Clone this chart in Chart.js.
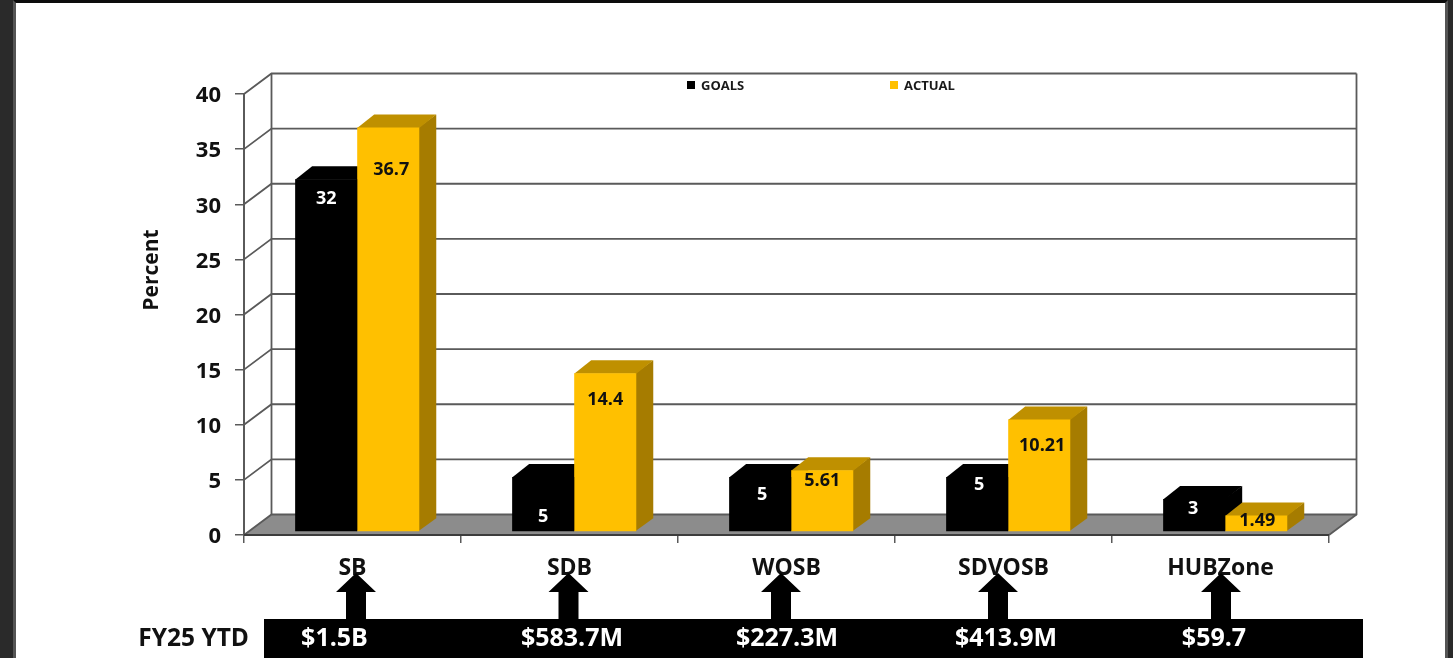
<!DOCTYPE html>
<html>
<head>
<meta charset="utf-8">
<title>FY25 YTD goals vs actual</title>
<script src="https://cdn.jsdelivr.net/npm/chart.js@4"></script>
<style>
  html, body { margin: 0; padding: 0; background: #2a2a2a; overflow: hidden; }
  #frame { position: absolute; left: 0; top: 0; width: 1453px; height: 658px; }
  #sheet { position: absolute; left: 13px; top: 0; width: 1435px; height: 658px; background: #fff;
           border-top: 3px solid #0c0c0c; border-left: 3px solid #555; border-right: 3px solid #555; box-sizing: border-box; }
  canvas { position: absolute; left: 0; top: 0; }
</style>
</head>
<body>
<div id="frame">
  <div id="sheet"></div>
  <canvas id="grafico" width="1453" height="658"></canvas>
</div>
<script>
const categorias = ['SB', 'SDB', 'WOSB', 'SDVOSB', 'HUBZone'];
const goals = [32, 5, 5, 5, 3];
const actual = [36.7, 14.4, 5.61, 10.21, 1.49];
const valoresYtd = ['$1.5B', '$583.7M', '$227.3M', '$413.9M', '$59.7'];
const tickStep = 5;
const tickMax = 40;

// hand placement, same as the slide (offset from each bar, px)
const goalsLabelX = [0, 0, 2, 2, -1];
const goalsLabelY = [20, 40, 18, 8, 10];
const actualLabelX = [3, 0, 0, 3, 1];
const actualLabelY = [42, 27, 11, 26, 5];
const setaX = [3.5, -1, -5.5, -5.5, 0.5];
const ytdX = [-18, 2.5, 0.5, 2.5, -6.5];

const FONTE = '"Open Sans", sans-serif';
const LINHA = '#5a5a5a';
const PAREDE_DX = 27.5, PAREDE_DY = -20.5;  // back wall offset
const BARRA_DX = 17, BARRA_DY = -13;        // bar depth
const DESLOCA_X = 4.7, DESLOCA_Y = -3;      // bars sit a bit inside the floor

function poligono(ctx, pts, cor) {
    ctx.beginPath();
    pts.forEach((p, i) => i ? ctx.lineTo(p[0], p[1]) : ctx.moveTo(p[0], p[1]));
    ctx.closePath();
    ctx.fillStyle = cor;
    ctx.fill();
}

function facesBarra(ctx, b, corTopo, corLado) {
    const esq = b.x - b.width / 2, dir = b.x + b.width / 2;
    poligono(ctx, [[dir - 1, b.y], [dir + BARRA_DX, b.y + BARRA_DY], [dir + BARRA_DX, b.base + BARRA_DY], [dir - 1, b.base]], corLado);
    poligono(ctx, [[esq, b.y + 0.5], [esq + BARRA_DX, b.y + BARRA_DY], [dir + BARRA_DX, b.y + BARRA_DY], [dir, b.y + 0.5]], corTopo);
}

const caixa3d = {
    id: 'caixa3d',
    beforeDatasetsDraw(chart) {
        const { ctx, chartArea: a, scales: { y } } = chart;
        ctx.save();
        // floor
        poligono(ctx, [[a.left, a.bottom], [a.right, a.bottom], [a.right + PAREDE_DX, a.bottom + PAREDE_DY], [a.left + PAREDE_DX, a.bottom + PAREDE_DY]], '#8c8c8c');
        // grid on the side and back walls
        ctx.strokeStyle = LINHA;
        ctx.lineWidth = 1.8;
        for (let v = 0; v <= tickMax; v += tickStep) {
            const py = y.getPixelForValue(v);
            ctx.beginPath();
            ctx.moveTo(a.left, py);
            ctx.lineTo(a.left + PAREDE_DX, py + PAREDE_DY);
            ctx.lineTo(a.right + PAREDE_DX, py + PAREDE_DY);
            ctx.stroke();
        }
        ctx.beginPath();
        ctx.moveTo(a.left + PAREDE_DX, a.top + PAREDE_DY);
        ctx.lineTo(a.left + PAREDE_DX, a.bottom + PAREDE_DY);
        ctx.moveTo(a.right + PAREDE_DX, a.top + PAREDE_DY);
        ctx.lineTo(a.right + PAREDE_DX, a.bottom + PAREDE_DY);
        ctx.lineTo(a.right, a.bottom);
        ctx.stroke();

        // bars: sides and tops first, black before gold
        ctx.translate(DESLOCA_X, DESLOCA_Y);
        chart.getDatasetMeta(0).data.forEach(b => facesBarra(ctx, b, '#000000', '#000000'));
        chart.getDatasetMeta(1).data.forEach(b => facesBarra(ctx, b, '#bf9000', '#a67c00'));
    },
    afterDatasetsDraw(chart) {
        const { ctx, chartArea: a, scales: { x } } = chart;
        // value labels
        ctx.textAlign = 'center';
        ctx.textBaseline = 'middle';
        ctx.font = 'bold 18px ' + FONTE;
        chart.getDatasetMeta(0).data.forEach((b, i) => {
            ctx.fillStyle = '#ffffff';
            ctx.fillText(goals[i], b.x + goalsLabelX[i], b.y + goalsLabelY[i]);
        });
        chart.getDatasetMeta(1).data.forEach((b, i) => {
            ctx.fillStyle = '#111111';
            ctx.fillText(actual[i], b.x + actualLabelX[i], b.y + actualLabelY[i]);
        });
        ctx.restore();

        ctx.save();
        // front edge of the floor
        ctx.strokeStyle = '#3c3c3c';
        ctx.lineWidth = 2;
        ctx.beginPath();
        ctx.moveTo(a.left, a.bottom);
        ctx.lineTo(a.right, a.bottom);
        ctx.stroke();

        // legend
        ctx.font = 'bold 13px ' + FONTE;
        ctx.textAlign = 'left';
        ctx.textBaseline = 'middle';
        [[687, 701], [890, 904]].forEach((pos, i) => {
            const ds = chart.data.datasets[i];
            ctx.fillStyle = ds.backgroundColor;
            ctx.fillRect(pos[0], 81, 8, 8);
            ctx.fillStyle = '#1a1a1a';
            ctx.fillText(ds.label, pos[1], 86);
        });

        // axis title, sits above the middle on the slide
        ctx.save();
        ctx.translate(152, 270);
        ctx.rotate(-Math.PI / 2);
        ctx.textAlign = 'center';
        ctx.fillStyle = '#111111';
        ctx.font = 'bold 21px ' + FONTE;
        ctx.fillText('Percent', 0, 0);
        ctx.restore();

        // FY25 strip
        ctx.fillStyle = '#000000';
        ctx.fillRect(264, 619, 1099, 39);
        ctx.fillStyle = '#111111';
        ctx.textAlign = 'right';
        ctx.font = 'bold 24.5px ' + FONTE;
        ctx.fillText('FY25 YTD', 249, 639);
        ctx.textAlign = 'center';
        ctx.font = 'bold 25px ' + FONTE;
        categorias.forEach((c, i) => {
            const cx = x.getPixelForValue(i);
            ctx.fillStyle = '#ffffff';
            ctx.fillText(valoresYtd[i], cx + ytdX[i], 639);
            // arrow pointing at the category
            const ax = cx + setaX[i];
            poligono(ctx, [[ax, 573], [ax + 20, 592], [ax + 10, 592], [ax + 10, 620], [ax - 10, 620], [ax - 10, 592], [ax - 20, 592]], '#000000');
        });
        ctx.restore();
    }
};

new Chart(document.getElementById('grafico'), {
    type: 'bar',
    data: {
        labels: categorias,
        datasets: [
            { label: 'GOALS', data: goals, backgroundColor: '#000000', clip: false },
            { label: 'ACTUAL', data: actual, backgroundColor: '#ffc000', clip: false }
        ]
    },
    options: {
        responsive: false,
        animation: false,
        layout: { padding: { left: 140, right: 124, top: 94, bottom: 0 } },
        datasets: { bar: { categoryPercentage: 0.572, barPercentage: 1 } },
        plugins: { legend: { display: false }, tooltip: { enabled: false } },
        scales: {
            x: {
                afterFit: s => { s.height = 123; },
                grid: { drawOnChartArea: false, color: LINHA, lineWidth: 1.5, tickLength: 8 },
                border: { color: LINHA, width: 2 },
                ticks: { color: '#111111', padding: 12, maxRotation: 0, font: { family: '"Open Sans"', size: 23, weight: 'bold' } }
            },
            y: {
                min: 0,
                max: tickMax,
                afterFit: s => { s.width = 104; },
                grid: { drawOnChartArea: false, color: LINHA, lineWidth: 1.5, tickLength: 9 },
                border: { color: LINHA, width: 2 },
                ticks: { stepSize: tickStep, color: '#111111', padding: 14, labelOffset: 2, font: { family: '"Open Sans"', size: 22, weight: 'bold' } }
            }
        }
    },
    plugins: [caixa3d]
});
</script>
</body>
</html>
